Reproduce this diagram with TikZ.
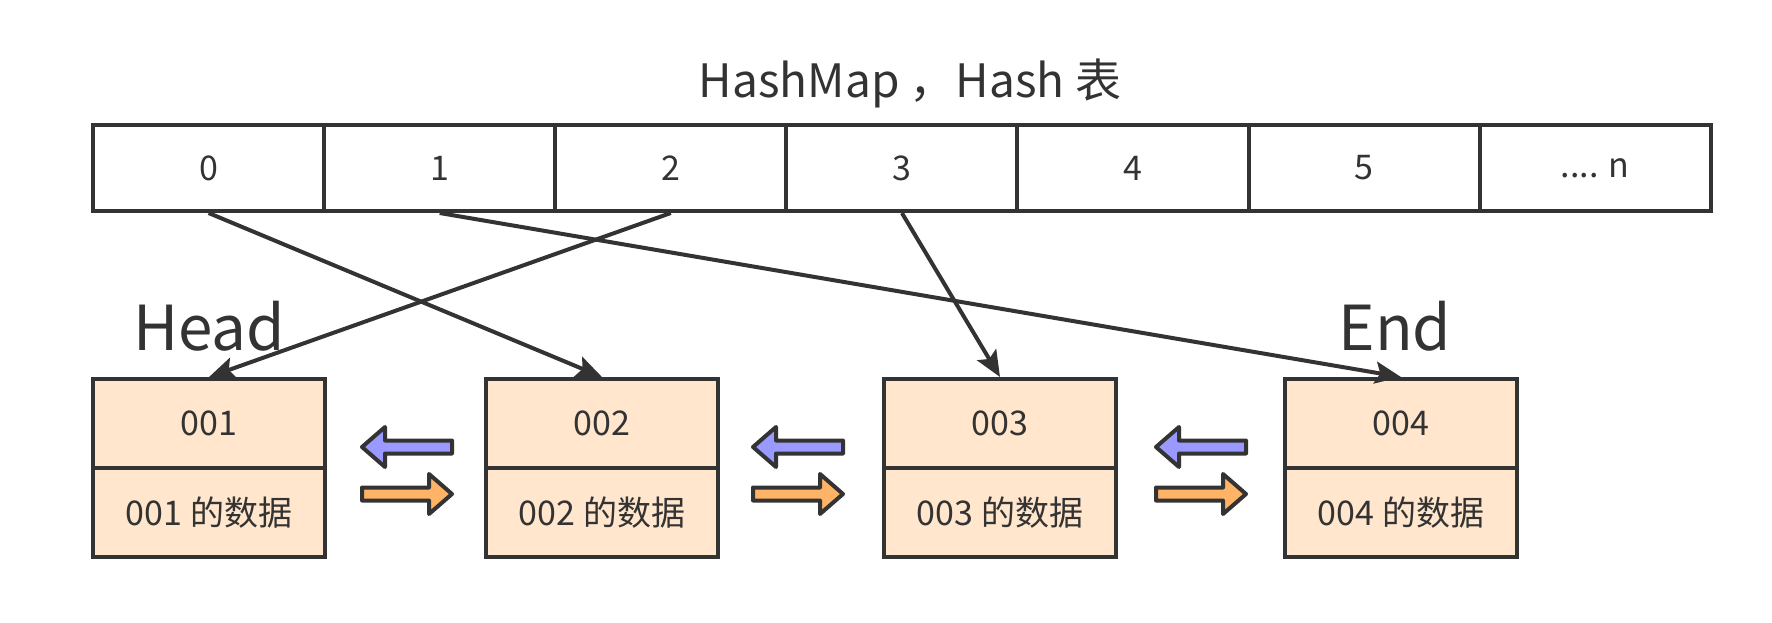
\documentclass[tikz,border=0pt]{standalone}
\usepackage{fontspec}
\setmainfont{Noto Sans CJK SC}
\usetikzlibrary{arrows.meta}
\definecolor{ink}{HTML}{333333}
\definecolor{boxfill}{HTML}{FFE6CC}
\definecolor{bluefill}{HTML}{9999FF}
\definecolor{orangefill}{HTML}{FFB366}
\begin{document}
\begin{tikzpicture}[x=1pt,y=-1pt,
  cell/.style={draw=ink, line width=4pt, minimum width=231.1pt, minimum height=86pt,
    inner sep=0pt, text=ink, font=\fontsize{34pt}{40pt}\selectfont},
  rec/.style={cell, fill=boxfill, minimum width=232pt, minimum height=89pt},
  link/.style={draw=ink, line width=4pt, -{Stealth[length=26pt,width=22pt,inset=5pt]}},
  blk/.style={draw=ink, line width=4pt, line join=round},
  lbl/.style={text=ink, inner sep=0pt, font=\fontsize{62pt}{70pt}\selectfont, anchor=base}
]
\useasboundingbox (0,0) rectangle (1772,622);
% title
\node[text=ink, inner sep=0pt, anchor=base, font=\fontsize{46pt}{52pt}\selectfont] (title) at (910,97) {HashMap ，Hash 表};
% hash table cells
\node[cell] (c0) at (208.6,168) {0};
\node[cell] (c1) at (439.7,168) {1};
\node[cell] (c2) at (670.8,168) {2};
\node[cell] (c3) at (901.9,168) {3};
\node[cell] (c4) at (1133.0,168) {4};
\node[cell] (c5) at (1364.1,168) {5};
\node[cell] (c6) at (1595.2,168) {.... n};
% linked list boxes
\node[rec] (k1) at (209,423.5) {001};
\node[rec] (d1) at (209,512.5) {001 的数据};
\node[rec] (k2) at (602,423.5) {002};
\node[rec] (d2) at (602,512.5) {002 的数据};
\node[rec] (k3) at (1000,423.5) {003};
\node[rec] (d3) at (1000,512.5) {003 的数据};
\node[rec] (k4) at (1401,423.5) {004};
\node[rec] (d4) at (1401,512.5) {004 的数据};
% labels
\node[lbl] (head) at (209,350) {Head};
\node[lbl] (end) at (1395,350) {End};
% connectors
\draw[link] (c0.south) -- (k2.north);
\draw[link] (c1.south) -- (k4.north);
\draw[link] (c2.south) -- (k1.north);
\draw[link] (c3.south) -- (k3.north);
% block arrows
\foreach \cx in {407,798,1201}{
  \draw[blk, fill=bluefill] (\cx-45,447) -- (\cx-22,427) -- (\cx-22,440.5) -- (\cx+45,440.5)
    -- (\cx+45,453.5) -- (\cx-22,453.5) -- (\cx-22,467) -- cycle;
  \draw[blk, fill=orangefill] (\cx+45,494) -- (\cx+22,474) -- (\cx+22,487.5) -- (\cx-45,487.5)
    -- (\cx-45,500.5) -- (\cx+22,500.5) -- (\cx+22,514) -- cycle;
}
\end{tikzpicture}
\end{document}
